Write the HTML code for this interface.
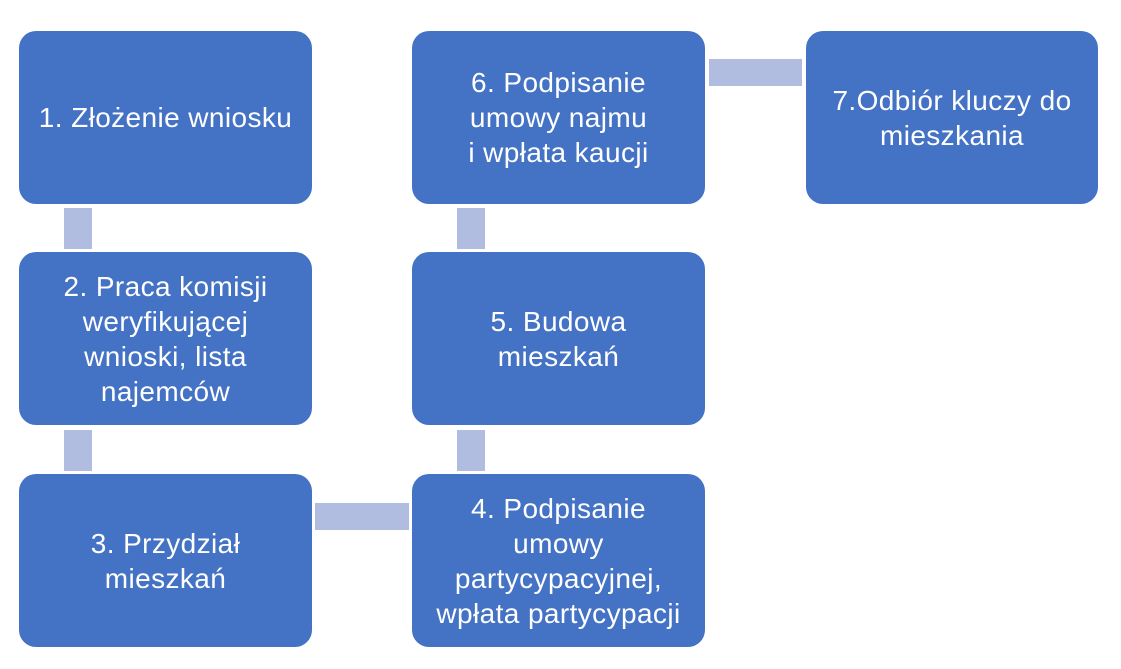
<!DOCTYPE html>
<html><head><style>
body{margin:0;width:1121px;height:669px;background:#fff;position:relative;overflow:hidden;font-family:"Liberation Sans",sans-serif}
.b{position:absolute;width:293px;height:173px;background:#4472C4;border-radius:17px;color:#fff;display:flex;align-items:center;justify-content:center;text-align:center;font-size:28px;letter-spacing:0.4px;line-height:35px}
.c{position:absolute;background:#B0BDE0}
</style></head><body>
<div class="b" style="left:19px;top:31px">1. Złożenie wniosku</div>
<div class="b" style="left:19px;top:252px">2. Praca komisji<br>weryfikującej<br>wnioski, lista<br>najemców</div>
<div class="b" style="left:19px;top:474px">3. Przydział<br>mieszkań</div>
<div class="b" style="left:412px;top:474px">4. Podpisanie<br>umowy<br>partycypacyjnej,<br>wpłata partycypacji</div>
<div class="b" style="left:412px;top:252px">5. Budowa<br>mieszkań</div>
<div class="b" style="left:412px;top:31px">6. Podpisanie<br>umowy najmu<br>i wpłata kaucji</div>
<div class="b" style="left:806px;top:31px;width:292px">7.Odbiór kluczy do<br>mieszkania</div>
<div class="c" style="left:64px;top:208px;width:28px;height:41px"></div>
<div class="c" style="left:64px;top:430px;width:28px;height:41px"></div>
<div class="c" style="left:457px;top:430px;width:28px;height:41px"></div>
<div class="c" style="left:457px;top:208px;width:28px;height:41px"></div>
<div class="c" style="left:315px;top:503px;width:94px;height:27px"></div>
<div class="c" style="left:709px;top:59px;width:93px;height:27px"></div>
</body></html>
